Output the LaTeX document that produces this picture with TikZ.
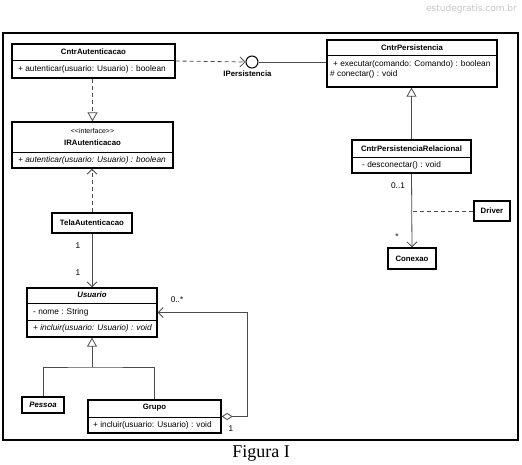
\documentclass[tikz,border=0pt]{standalone}
\usepackage{fontspec}
\newfontfamily\umlfont{Liberation Sans}
\newfontfamily\capfont{Liberation Serif}
\newfontfamily\wmfont{DejaVu Sans}
\usetikzlibrary{arrows.meta}

\tikzset{
  cls/.style={draw, line width=1.3pt, inner sep=0pt},
  lbl/.style={font=\umlfont\fontsize{8.3}{9}\selectfont, inner sep=0pt},
  ttl/.style={font=\umlfont\bfseries\fontsize{7.8}{9}\selectfont, inner sep=0pt},
  sep/.style={line width=0.6pt},
  conn/.style={draw=black!70, line width=0.8pt},
  dep/.style={conn, dash pattern=on 4pt off 3pt},
  barb/.style={-{Straight Barb[length=5pt,width=10pt]}},
  gen/.style={-{Triangle[open,length=9pt,width=10pt]}}
}

\begin{document}
\begin{tikzpicture}[x=1pt,y=-1pt]
\useasboundingbox[fill=white] (0,0) rectangle (522,465);
\draw[line width=2.5pt] (3,33) rectangle (518,440);

% classes
\node[cls, minimum width=163, minimum height=34] (cntrAut) at (93.5,61) {};
\draw[sep] (cntrAut.west |- 0,60) -- (cntrAut.east |- 0,60);
\node[ttl] (cntrAutT) at (93.5,52) {CntrAutenticacao};
\node[lbl, anchor=west] (cntrAutO) at (18,69) {+ autenticar(usuario: Usuario) : boolean};

\node[cls, minimum width=161, minimum height=46] (irAut) at (92.5,145) {};
\draw[sep] (irAut.west |- 0,152) -- (irAut.east |- 0,152);
\node[lbl, font=\umlfont\fontsize{7}{8}\selectfont] (irAutS) at (92.5,131) {<<interface>>};
\node[ttl] (irAutT) at (92.5,143) {IRAutenticacao};
\node[lbl, anchor=west, font=\umlfont\itshape\fontsize{8.3}{9}\selectfont] (irAutO) at (18,160) {+ autenticar(usuario: Usuario) : boolean};

\node[cls, minimum width=170, minimum height=47] (cntrPer) at (412,63.5) {};
\draw[sep] (cntrPer.west |- 0,55) -- (cntrPer.east |- 0,55);
\node[ttl] (cntrPerT) at (412,48) {CntrPersistencia};
\node[lbl, anchor=west] (cntrPerO1) at (333,64) {+ executar(comando: Comando) : boolean};
\node[lbl, anchor=west] (cntrPerO2) at (330,74) {\# conectar() : void};

\node[cls, minimum width=119, minimum height=33] (cntrRel) at (411.5,156.5) {};
\draw[sep] (cntrRel.west |- 0,157) -- (cntrRel.east |- 0,157);
\node[ttl] (cntrRelT) at (411.5,149) {CntrPersistenciaRelacional};
\node[lbl, anchor=west] (cntrRelO) at (362,165) {- desconectar() : void};

\node[cls, ttl, minimum width=48, minimum height=21] (conexao) at (412,258.5) {Conexao};
\node[cls, ttl, minimum width=36, minimum height=20] (driver) at (492,211) {Driver};
\node[cls, ttl, minimum width=80, minimum height=20] (tela) at (92,223) {TelaAutenticacao};

\node[cls, minimum width=130, minimum height=49] (usu) at (92,312.5) {};
\draw[sep] (usu.west |- 0,303) -- (usu.east |- 0,303);
\draw[sep] (usu.west |- 0,320) -- (usu.east |- 0,320);
\node[ttl, font=\umlfont\bfseries\itshape\fontsize{7.8}{9}\selectfont] (usuT) at (92,295) {Usuario};
\node[lbl, anchor=west] (usuA) at (33,312) {- nome : String};
\node[lbl, anchor=west, font=\umlfont\itshape\fontsize{8.3}{9}\selectfont] (usuO) at (33,328) {+ incluir(usuario: Usuario) : void};

\node[cls, minimum width=42, minimum height=16, font=\umlfont\bfseries\itshape\fontsize{7.8}{9}\selectfont] (pessoa) at (43,405) {Pessoa};

\node[cls, minimum width=133, minimum height=33] (grupo) at (154.5,416.5) {};
\draw[sep] (grupo.west |- 0,417) -- (grupo.east |- 0,417);
\node[ttl] (grupoT) at (154.5,408) {Grupo};
\node[lbl, anchor=west] (grupoO) at (93,425) {+ incluir(usuario: Usuario) : void};

% interface
\node[draw, circle, line width=1pt, minimum size=12, inner sep=0pt] (iPer) at (252,62) {};
\node[ttl] (iPerT) at (247.5,74) {IPersistencia};

% connectors
\draw[dep, barb] (cntrAut.east) -- (iPer.west);
\draw[conn] (iPer.east) -- (iPer.east -| cntrPer.west);
\draw[dep, gen] (cntrAut.south -| irAut.north) -- (irAut.north);
\draw[dep, barb] (tela.north) -- (tela.north |- irAut.south);
\draw[conn, barb] (tela.south) -- (usu.north);
\node[lbl] (m1a) at (78,246) {1};
\node[lbl] (m1b) at (78,273) {1};

\draw[conn, gen] (cntrRel.north) -- (cntrRel.north |- cntrPer.south);
\draw[conn, barb] (cntrRel.south) -- (conexao.north);
\coordinate (drvJ) at (411.5,211);
\draw[dep] (driver.west) -- (drvJ);
\node[lbl] (m01) at (398,186) {0..1};
\node[lbl] (mSt) at (397,237) {*};

\coordinate (genJ) at (92,367);
\draw[conn, gen] (genJ) -- (usu.south);
\draw[conn] (pessoa.north) |- (genJ) -| (grupo.north);

\coordinate (aggC) at (247,417);
\draw[conn, {Diamond[open,length=11pt,width=7pt]}-{Straight Barb[length=5pt,width=10pt]}]
  (grupo.east) -- (grupo.east -| aggC) |- (usu.east);
\node[lbl] (m0s) at (177,300) {0..*};
\node[lbl] (m1c) at (231,429) {1};

% caption
\node[font=\capfont\fontsize{18}{21}\selectfont, inner sep=0pt] (fig) at (261,453) {Figura I};
\node[font=\wmfont\fontsize{9}{11}\selectfont, text=gray!45, anchor=east, inner sep=0pt] (wm) at (517,9) {estudegratis.com.br};
\end{tikzpicture}
\end{document}
